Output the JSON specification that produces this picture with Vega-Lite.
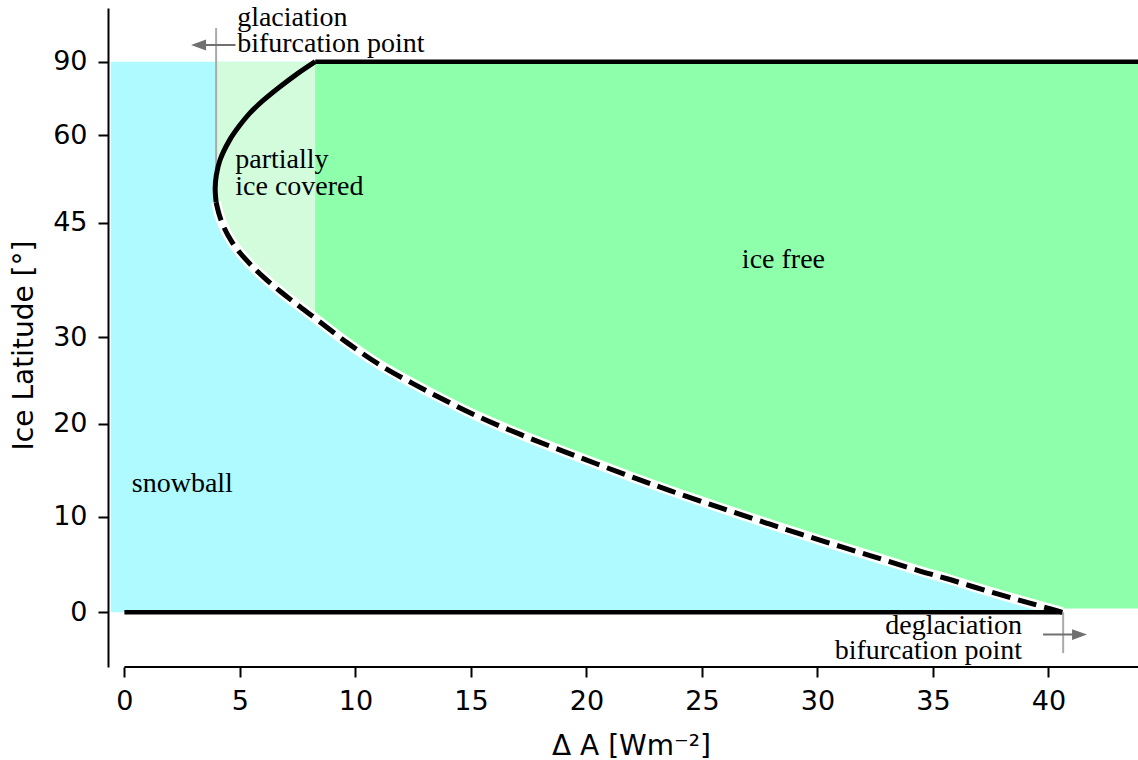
{
  "$schema": "https://vega.github.io/schema/vega-lite/v6.json",
  "width": 1030,
  "height": 659,
  "autosize": "none",
  "padding": {"left": 108, "top": 8, "right": 0, "bottom": 93},
  "background": "white",
  "config": {
    "view": {"stroke": null},
    "axis": {
      "grid": false,
      "domainColor": "black",
      "domainWidth": 2,
      "tickColor": "black",
      "tickWidth": 2,
      "tickSize": 10,
      "labelFont": "DejaVu Sans",
      "labelFontSize": 27,
      "labelColor": "black",
      "titleFont": "DejaVu Sans",
      "titleFontSize": 28,
      "titleFontWeight": "normal",
      "titleColor": "black"
    }
  },
  "datasets": {
    "regions": [
      {"region": "snowball", "x": -0.59, "xe": 40.6, "y": 0, "ye": 1}
    ],
    "boundary": [
      {"x": 3.97, "y": 0.745}, {"x": 4.12, "y": 0.72}, {"x": 4.3, "y": 0.70}, {"x": 4.62, "y": 0.675},
      {"x": 5.01, "y": 0.6525}, {"x": 5.5, "y": 0.63}, {"x": 6.0, "y": 0.6096}, {"x": 6.74, "y": 0.583},
      {"x": 7.47, "y": 0.559}, {"x": 8.26, "y": 0.534}, {"x": 9.7, "y": 0.488}, {"x": 11.07, "y": 0.449},
      {"x": 13.23, "y": 0.399}, {"x": 15.4, "y": 0.354}, {"x": 17.56, "y": 0.316}, {"x": 19.73, "y": 0.281},
      {"x": 21.89, "y": 0.247}, {"x": 23.62, "y": 0.221}, {"x": 25.79, "y": 0.19}, {"x": 27.95, "y": 0.16},
      {"x": 30.11, "y": 0.131}, {"x": 32.28, "y": 0.103}, {"x": 34.44, "y": 0.075}, {"x": 35.62, "y": 0.061},
      {"x": 36.78, "y": 0.046}, {"x": 37.91, "y": 0.032}, {"x": 39.08, "y": 0.018}, {"x": 40.29, "y": 0.004},
      {"x": 40.6, "y": 0.0}, {"x": 40.65, "y": 0.007}, {"x": 43.88, "y": 0.007}
    ],
    "curve": [
      {"branch": "stable", "o": 1, "x": 8.26, "y": 1.0},
      {"branch": "stable", "o": 2, "x": 7.45, "y": 0.977},
      {"branch": "stable", "o": 3, "x": 6.72, "y": 0.954},
      {"branch": "stable", "o": 4, "x": 6.02, "y": 0.93},
      {"branch": "stable", "o": 5, "x": 5.44, "y": 0.907},
      {"branch": "stable", "o": 6, "x": 4.97, "y": 0.883},
      {"branch": "stable", "o": 7, "x": 4.56, "y": 0.858},
      {"branch": "stable", "o": 8, "x": 4.14, "y": 0.8215},
      {"branch": "stable", "o": 9, "x": 3.98, "y": 0.794},
      {"branch": "stable", "o": 10, "x": 3.93, "y": 0.77},
      {"branch": "stable", "o": 11, "x": 3.97, "y": 0.745},
      {"branch": "unstable", "o": 1, "x": 3.97, "y": 0.745},
      {"branch": "unstable", "o": 2, "x": 4.12, "y": 0.72},
      {"branch": "unstable", "o": 3, "x": 4.3, "y": 0.70},
      {"branch": "unstable", "o": 4, "x": 4.62, "y": 0.675},
      {"branch": "unstable", "o": 5, "x": 5.01, "y": 0.6525},
      {"branch": "unstable", "o": 6, "x": 5.5, "y": 0.63},
      {"branch": "unstable", "o": 7, "x": 6.0, "y": 0.6096},
      {"branch": "unstable", "o": 8, "x": 6.74, "y": 0.583},
      {"branch": "unstable", "o": 9, "x": 7.47, "y": 0.559},
      {"branch": "unstable", "o": 10, "x": 8.26, "y": 0.534},
      {"branch": "unstable", "o": 11, "x": 9.7, "y": 0.488},
      {"branch": "unstable", "o": 12, "x": 11.07, "y": 0.449},
      {"branch": "unstable", "o": 13, "x": 13.23, "y": 0.399},
      {"branch": "unstable", "o": 14, "x": 15.4, "y": 0.354},
      {"branch": "unstable", "o": 15, "x": 17.56, "y": 0.316},
      {"branch": "unstable", "o": 16, "x": 19.73, "y": 0.281},
      {"branch": "unstable", "o": 17, "x": 21.89, "y": 0.247},
      {"branch": "unstable", "o": 18, "x": 23.62, "y": 0.221},
      {"branch": "unstable", "o": 19, "x": 25.79, "y": 0.19},
      {"branch": "unstable", "o": 20, "x": 27.95, "y": 0.16},
      {"branch": "unstable", "o": 21, "x": 30.11, "y": 0.131},
      {"branch": "unstable", "o": 22, "x": 32.28, "y": 0.103},
      {"branch": "unstable", "o": 23, "x": 34.44, "y": 0.075},
      {"branch": "unstable", "o": 24, "x": 35.62, "y": 0.061},
      {"branch": "unstable", "o": 25, "x": 36.78, "y": 0.046},
      {"branch": "unstable", "o": 26, "x": 37.91, "y": 0.032},
      {"branch": "unstable", "o": 27, "x": 39.08, "y": 0.018},
      {"branch": "unstable", "o": 28, "x": 40.29, "y": 0.004},
      {"branch": "unstable", "o": 29, "x": 40.6, "y": 0.0}
    ],
    "hlines": [
      {"name": "ice free edge", "x": 8.26, "xe": 43.88, "y": 1.0},
      {"name": "snowball edge", "x": 0, "xe": 40.6, "y": 0.0}
    ],
    "spine": [
      {"x": 0, "xe": 43.88, "y": -0.0993}
    ],
    "guides": [
      {"name": "glaciation", "x": 3.97, "y": 1.061, "ye": 0.77},
      {"name": "deglaciation", "x": 40.64, "y": 0.0, "ye": -0.074}
    ],
    "arrows": [
      {"name": "glaciation", "dir": "left", "x": 4.81, "xe": 3.3, "y": 1.0303, "hx": 3.21},
      {"name": "deglaciation", "dir": "right", "x": 39.77, "xe": 41.3, "y": -0.0405, "hx": 41.35}
    ],
    "labels": [
      {"t": "glaciation", "side": "left", "x": 4.88, "y": 1.065},
      {"t": "bifurcation point", "side": "left", "x": 4.88, "y": 1.0176},
      {"t": "partially", "side": "left", "x": 4.8, "y": 0.807},
      {"t": "ice covered", "side": "left", "x": 4.8, "y": 0.758},
      {"t": "ice free", "side": "left", "x": 26.73, "y": 0.625},
      {"t": "snowball", "side": "left", "x": 0.32, "y": 0.2185},
      {"t": "deglaciation", "side": "right", "x": 38.86, "y": -0.0394},
      {"t": "bifurcation point", "side": "right", "x": 38.86, "y": -0.0848}
    ]
  },
  "encoding": {
    "x": {
      "field": "x",
      "type": "quantitative",
      "scale": {"domain": [-0.71, 43.88], "nice": false, "zero": false},
      "axis": {
        "title": "Δ A [Wm⁻²]",
        "values": [0, 5, 10, 15, 20, 25, 30, 35, 40],
        "domain": false,
        "labelPadding": 11,
        "titleX": 523,
        "titleY": 87,
        "titleAlign": "center",
        "titleBaseline": "alphabetic"
      }
    },
    "y": {
      "field": "y",
      "type": "quantitative",
      "scale": {"domain": [-0.0993, 1.0975], "nice": false, "zero": false},
      "axis": {
        "title": "Ice Latitude [°]",
        "values": [0, 0.173648, 0.34202, 0.5, 0.707107, 0.866025, 1],
        "labelExpr": "format(round(asin(datum.value) * 180 / PI), 'd')",
        "labelPadding": 11,
        "titleX": -76,
        "titleY": 337,
        "titleAngle": 270,
        "titleAlign": "center",
        "titleBaseline": "alphabetic"
      }
    }
  },
  "layer": [
    {
      "data": {"name": "regions"},
      "mark": {"type": "rect", "color": "#aefaff"},
      "encoding": {"x2": {"field": "xe"}, "y2": {"field": "ye"}}
    },
    {
      "data": {"name": "boundary"},
      "transform": [{"filter": "datum.x <= 8.26"}],
      "mark": {"type": "area", "color": "#d3fcdc", "interpolate": "monotone"},
      "encoding": {"y2": {"datum": 1}}
    },
    {
      "data": {"name": "boundary"},
      "transform": [{"filter": "datum.x >= 8.26"}],
      "mark": {"type": "area", "color": "#8effaa", "interpolate": "monotone"},
      "encoding": {"y2": {"datum": 1}}
    },
    {
      "data": {"name": "guides"},
      "mark": {"type": "rule", "color": "#aaaaaa", "strokeWidth": 2},
      "encoding": {"y2": {"field": "ye"}}
    },
    {
      "data": {"name": "curve"},
      "transform": [{"filter": "datum.branch === 'unstable'"}],
      "mark": {"type": "line", "color": "white", "strokeWidth": 10, "interpolate": "catmull-rom"},
      "encoding": {"order": {"field": "o", "type": "quantitative"}}
    },
    {
      "data": {"name": "curve"},
      "transform": [{"filter": "datum.branch === 'unstable'"}],
      "mark": {"type": "line", "color": "black", "strokeWidth": 5, "strokeDash": [19, 8], "strokeCap": "butt", "interpolate": "catmull-rom"},
      "encoding": {"order": {"field": "o", "type": "quantitative"}}
    },
    {
      "data": {"name": "curve"},
      "transform": [{"filter": "datum.branch === 'stable'"}],
      "mark": {"type": "line", "color": "black", "strokeWidth": 5, "interpolate": "catmull-rom"},
      "encoding": {"order": {"field": "o", "type": "quantitative"}}
    },
    {
      "data": {"name": "hlines"},
      "mark": {"type": "rule", "color": "black", "strokeWidth": 4.5},
      "encoding": {"x2": {"field": "xe"}}
    },
    {
      "data": {"name": "spine"},
      "mark": {"type": "rule", "color": "black", "strokeWidth": 2},
      "encoding": {"x2": {"field": "xe"}}
    },
    {
      "data": {"name": "arrows"},
      "mark": {"type": "rule", "color": "#707070", "strokeWidth": 2},
      "encoding": {"x2": {"field": "xe"}}
    },
    {
      "data": {"name": "arrows"},
      "transform": [{"filter": "datum.dir === 'left'"}],
      "mark": {"type": "point", "shape": "M-1,0L1,-0.73L1,0.73Z", "filled": true, "color": "#707070", "opacity": 1, "size": 225},
      "encoding": {"x": {"field": "hx", "type": "quantitative"}}
    },
    {
      "data": {"name": "arrows"},
      "transform": [{"filter": "datum.dir === 'right'"}],
      "mark": {"type": "point", "shape": "M1,0L-1,-0.73L-1,0.73Z", "filled": true, "color": "#707070", "opacity": 1, "size": 225},
      "encoding": {"x": {"field": "hx", "type": "quantitative"}}
    },
    {
      "data": {"name": "labels"},
      "transform": [{"filter": "datum.side === 'left'"}],
      "mark": {"type": "text", "align": "left", "baseline": "alphabetic", "font": "Liberation Serif", "fontSize": 28, "color": "black"},
      "encoding": {"text": {"field": "t"}}
    },
    {
      "data": {"name": "labels"},
      "transform": [{"filter": "datum.side === 'right'"}],
      "mark": {"type": "text", "align": "right", "baseline": "alphabetic", "font": "Liberation Serif", "fontSize": 28, "color": "black"},
      "encoding": {"text": {"field": "t"}}
    }
  ]
}
